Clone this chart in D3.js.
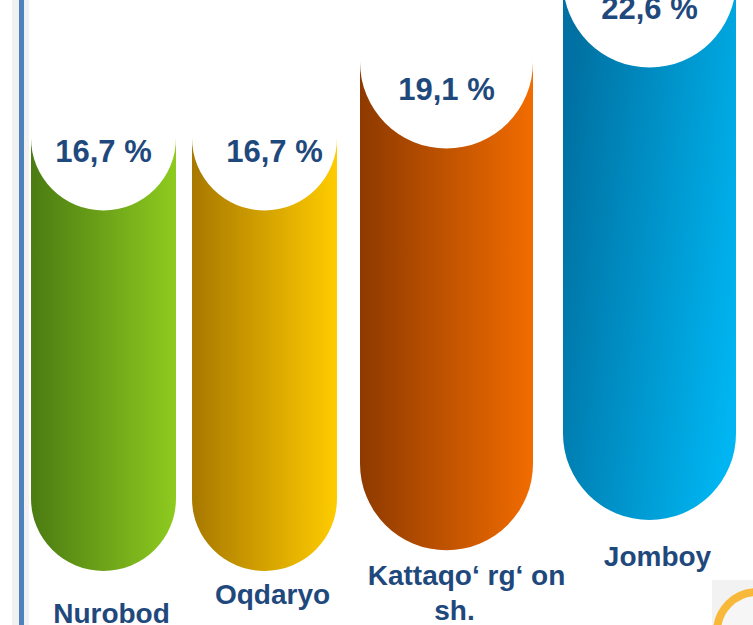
<!DOCTYPE html>
<html lang="en">
  <head>
    <meta charset="utf-8" />
    <title>Tumanlar ulushi</title>
    <script src="https://d3js.org/d3.v7.min.js"></script>
    <style>
      body {
        margin: 0;
        background: #fff;
      }
      svg {
        display: block;
      }
      .value-label {
        font-family: "Liberation Sans", Arial, sans-serif;
        font-weight: bold;
        font-size: 31px;
        fill: #1f497d;
      }
      .cat-label {
        font-family: "Liberation Sans", Arial, sans-serif;
        font-weight: bold;
        font-size: 28px;
        fill: #1f497d;
      }
    </style>
  </head>
  <body>
    <svg width="753" height="625"></svg>
    <script>

    // data
    var categories = ["Nurobod", "Oqdaryo", "Kattaqo‘ rg‘ on sh.", "Jomboy"];
    var categoryLines = [["Nurobod"], ["Oqdaryo"], ["Kattaqo‘ rg‘ on", "sh."], ["Jomboy"]];
    var values = [16.7, 16.7, 19.1, 22.6];

    var darkColours = ["#4b7b12", "#a87800", "#8e3a00", "#0071a2"],
        lightColours = ["#8ecb1f", "#ffcc00", "#f26c00", "#00b5f1"];

    var svg = d3.select("svg"),
        width = 753,
        height = 625;

    var fmt = function(v) { return d3.format(".1f")(v).replace(".", ",") + " %"; };

    // bar top (notch centre) and bar bottom both follow the value
    var yTop = d3.scaleLinear().domain([16.7, 19.1, 22.6]).range([138, 62, -19]),
        yBottom = d3.scaleLinear().domain([16.7, 22.6]).range([571, 520]),
        barWidth = d3.scaleLinear().domain([16.7, 19.1]).range([145, 173]).clamp(true),
        gap = d3.scaleLinear().domain([1, 3]).range([16, 30]),
        labelY = d3.scaleLinear().domain([0, 3]).range([623, 566]);

    var bars = [];
    var cursor = 31;
    values.forEach(function(v, i) {
      if (i > 0) cursor += gap(i);
      var w = barWidth(v);
      bars.push({
        name: categories[i],
        lines: categoryLines[i],
        value: v,
        i: i,
        x0: cursor,
        x1: cursor + w,
        top: yTop(v),
        bottom: yBottom(v)
      });
      cursor += w;
    });

    var defs = svg.append("defs");
    bars.forEach(function(d) {
      var grad = defs.append("linearGradient")
          .attr("id", "grad" + d.i)
          .attr("x1", 0).attr("y1", d.i == 3 ? 0.3 : 0)
          .attr("x2", 1).attr("y2", d.i == 3 ? 0.7 : 0);
      grad.append("stop").attr("offset", "0%").attr("stop-color", darkColours[d.i]);
      grad.append("stop").attr("offset", "100%").attr("stop-color", lightColours[d.i]);
    });

    // slide frame on the left
    svg.append("rect")
        .attr("x", 12).attr("y", 0)
        .attr("width", 17).attr("height", height)
        .attr("fill", "#f1f1f1");
    svg.append("rect")
        .attr("x", 19).attr("y", 0)
        .attr("width", 5).attr("height", height)
        .attr("fill", "#4f81bd");

    function barPath(d) {
      var r = (d.x1 - d.x0) / 2;
      return "M" + d.x0 + "," + d.top +
        "L" + d.x0 + "," + (d.bottom - r) +
        "A" + r + "," + r + " 0 0 0 " + d.x1 + "," + (d.bottom - r) +
        "L" + d.x1 + "," + d.top +
        "A" + r + "," + r + " 0 0 1 " + d.x0 + "," + d.top + "Z";
    }

    var g = svg.append("g");

    var bar = g.selectAll(".bar")
        .data(bars)
        .enter().append("g")
        .attr("class", "bar");

    bar.append("path")
        .attr("d", barPath)
        .attr("fill", function(d) { return "url(#grad" + d.i + ")"; });

    bar.append("text")
        .attr("class", "value-label")
        .attr("text-anchor", "middle")
        .attr("x", function(d) { return (d.x0 + d.x1) / 2 + (d.i == 1 ? 10 : 0); })
        .attr("y", function(d) { return d.top + (d.x1 - d.x0) / 2 - 49; })
        .text(function(d) { return fmt(d.value); });

    bar.append("text")
        .attr("class", "cat-label")
        .attr("text-anchor", "middle")
        .attr("y", function(d) { return labelY(d.i); })
        .selectAll("tspan")
        .data(function(d) {
          return d.lines.map(function(l, k) { return {text: l, k: k, cx: (d.x0 + d.x1) / 2 + 8 + (k == 0 && d.lines.length > 1 ? 12 : 0)}; });
        })
        .enter().append("tspan")
        .attr("x", function(t) { return t.cx; })
        .attr("dy", function(t) { return t.k == 0 ? 0 : 35; })
        .text(function(t) { return t.text; });

    // corner ornament
    svg.append("rect")
        .attr("x", 712).attr("y", 580)
        .attr("width", 41).attr("height", 45)
        .attr("fill", "#f2f2f2");
    svg.append("circle")
        .attr("cx", 757).attr("cy", 632)
        .attr("r", 40)
        .attr("fill", "#f6f6f6")
        .attr("stroke", "#f8b93a")
        .attr("stroke-width", 8);

    </script>
  </body>
</html>
